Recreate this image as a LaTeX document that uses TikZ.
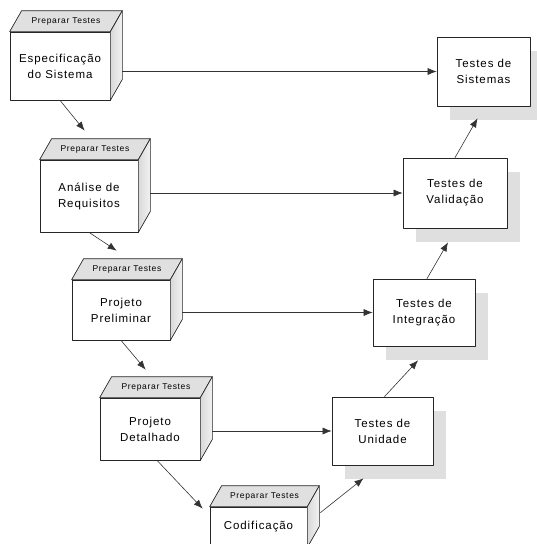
\documentclass[tikz,border=0pt]{standalone}
\usepackage{fontspec}
\newfontfamily\diagfont[LetterSpace=8]{Liberation Sans}
\usetikzlibrary{calc,arrows.meta,shadows}

% Stage drawn as a 3D block: front face node, slanted top face with label, side face
\newcommand\stagebox[6]{%
  \node[face, minimum width=#3, minimum height=#4] (#1) at #2 {#5};
  \path[facedraw, fill=gray!24] (#1.north west) -- ++(12,-21)
        -- ($(#1.north east)+(12,-21)$) -- (#1.north east) -- cycle;
  \path[facedraw, left color=gray!30, right color=gray!10] (#1.north east) -- ++(12,-21)
        -- ($(#1.south east)+(12,-21)$) -- (#1.south east) -- cycle;
  \node[toplabel] (#1top) at ($(#1.north)+(6,-10.5)$) {#6};
  \coordinate (#1side) at ($(#1.east)+(12,-10.5)$);
}

\begin{document}
\begin{tikzpicture}[x=1pt,y=-1pt,
  facedraw/.style={draw=black!85, line width=0.7pt, line join=round},
  face/.style={facedraw, fill=white, align=center, inner sep=0pt,
               font=\diagfont\fontsize{11.5}{16}\selectfont},
  testbox/.style={face, drop shadow={shadow xshift=13pt, shadow yshift=-14pt,
               fill=gray!25, opacity=1}},
  toplabel/.style={font=\diagfont\fontsize{8.5}{9}\selectfont, inner sep=0pt},
  arr/.style={draw=black!80, line width=0.6pt, -{Latex[length=9pt,width=7pt]}}]

\useasboundingbox (0,0) rectangle (536,544);

% development stages
\stagebox{B1}{(60,66)}{100pt}{68pt}{Especificação\\do Sistema}{Preparar Testes}
\stagebox{B2}{(89,196)}{98pt}{72pt}{Análise de\\Requisitos}{Preparar Testes}
\stagebox{B3}{(121,310)}{98pt}{60pt}{Projeto\\Preliminar}{Preparar Testes}
\stagebox{B4}{(150,429)}{100pt}{62pt}{Projeto\\Detalhado}{Preparar Testes}
\stagebox{B5}{(258.5,527)}{97pt}{40pt}{Codificação}{Preparar Testes}

% test levels
\node[testbox, minimum width=93pt, minimum height=69pt] (S) at (483.5,71.5) {Testes de\\Sistemas};
\node[testbox, minimum width=104pt, minimum height=70pt] (V) at (455,193) {Testes de\\Validação};
\node[testbox, minimum width=102pt, minimum height=67pt] (I) at (424,312.5) {Testes de\\Integração};
\node[testbox, minimum width=101pt, minimum height=68pt] (U) at (382.5,431) {Testes de\\Unidade};

% stage -> corresponding test level
\draw[arr] (S.west -| B1side) -- (S.west);
\draw[arr] (V.west -| B2side) -- (V.west);
\draw[arr] (I.west -| B3side) -- (I.west);
\draw[arr] (U.west -| B4side) -- (U.west);

% descending branch
\draw[arr] (B1.south) -- ($(B2.north west)+(45,-29)$);
\draw[arr] (B2.south) -- ($(B3.north west)+(45,-29)$);
\draw[arr] (B3.south) -- ($(B4.north west)+(46,-28)$);
\draw[arr] ($(B4.south)+(7,0)$) -- ($(B5.north west)+(-7,2)$);

% ascending branch
\draw[arr] ($(B5.north east)+(13,6)$) -- ($(U.south)+(-19,13)$);
\draw[arr] ($(U.north)+(2,0)$) -- ($(I.south)+(-6,14)$);
\draw[arr] ($(I.north)+(3,0)$) -- ($(V.south)+(-7,14)$);
\draw[arr] (V.north) -- ($(S.south)+(-6,12)$);
\end{tikzpicture}
\end{document}
